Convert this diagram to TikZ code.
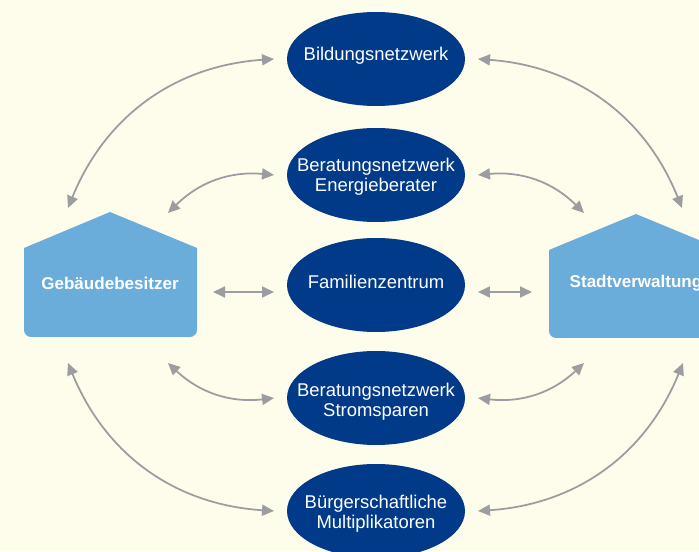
\documentclass[tikz,border=0pt]{standalone}
\usepackage{fontspec}
\setmainfont{Liberation Sans}
\usetikzlibrary{shapes.geometric, positioning, arrows.meta}

\definecolor{cream}{HTML}{FEFCEA}
\definecolor{darkblue}{HTML}{003A89}
\definecolor{houseblue}{HTML}{6AADDB}
\definecolor{arrowgray}{HTML}{9C9DA0}

\begin{document}
\begin{tikzpicture}[
    x=0.02cm, y=0.02cm,
    partner/.style={
        ellipse,
        fill=darkblue,
        minimum width=3.56cm,
        minimum height=1.88cm,
        inner sep=0pt,
        outer sep=0.26cm
    },
    partnertext/.style={
        text=white,
        align=center,
        inner sep=0pt,
        font=\fontsize{10.5}{11.6}\selectfont
    },
    house/.style={
        fill=houseblue
    },
    housetext/.style={
        text=white,
        font=\fontsize{9.7}{11}\selectfont\bfseries
    },
    link/.style={
        {Triangle[length=2.4mm,width=2.2mm]}-{Triangle[length=2.4mm,width=2.2mm]},
        draw=arrowgray,
        line width=1pt
    }
]

\useasboundingbox (0,0) rectangle (699,551);
\clip (0,0) rectangle (699,551);

% Background
\fill[cream] (0,0) rectangle (699,551);

% ========== HOUSES ==========

% Gebaeudebesitzer (left)
\fill[house] (24,259) -- (24,303) -- (110,339) -- (197,303) -- (197,259)
    [rounded corners=4] -- (197,214) -- (24,214) -- (24,259);
\node[housetext] (owner) at (110,268) {Gebäudebesitzer};

% Stadtverwaltung (right)
\fill[house] (549,259) -- (549,301) -- (636,337) -- (723,301) -- (723,259)
    [rounded corners=4] -- (723,213) -- (549,213) -- (549,259);
\node[housetext] (city) at (636,268) {Stadtverwaltung};

% ========== PARTNERS ==========

\node[partner] (bildung) at (376,492) {};
\node[partner] (energie) at (376,376) {};
\node[partner] (familie) at (376,266) {};
\node[partner] (strom) at (376,153) {};
\node[partner] (buerger) at (376,40) {};

\node[partnertext] (bildung-t) at (376,495) {Bildungsnetzwerk};
\node[partnertext] (energie-t) at (376,374) {Beratungsnetzwerk\\Energieberater};
\node[partnertext] (familie-t) at (376,269) {Familienzentrum};
\node[partnertext] (strom-t) at (376,149) {Beratungsnetzwerk\\Stromsparen};
\node[partnertext] (buerger-t) at (376,37) {Bürgerschaftliche\\Multiplikatoren};

% ========== ARROW ENDS AT THE HOUSES ==========

\coordinate (o1) at (68,343);
\coordinate (o2) at (168,338);
\coordinate (o3) at (213,259);
\coordinate (o4) at (168,188);
\coordinate (o5) at (68,188);

\coordinate (c1) at (682,343);
\coordinate (c2) at (584,338);
\coordinate (c3) at (532,259);
\coordinate (c4) at (584,188);
\coordinate (c5) at (683,188);

% ========== CONNECTIONS - GEBAEUDEBESITZER ==========

\draw[link] (o1) to[bend left=32] (bildung.west);
\draw[link] (o2) to[bend left=25] (energie.west);
\draw[link] (o3) -- (o3 -| familie.west);
\draw[link] (o4) to[bend right=25] (strom.west);
\draw[link] (o5) to[bend right=32] (buerger.west);

% ========== CONNECTIONS - STADTVERWALTUNG ==========

\draw[link] (bildung.east) to[bend left=32] (c1);
\draw[link] (energie.east) to[bend left=25] (c2);
\draw[link] (c3 -| familie.east) -- (c3);
\draw[link] (strom.east) to[bend right=25] (c4);
\draw[link] (buerger.east) to[bend right=32] (c5);

\end{tikzpicture}
\end{document}
